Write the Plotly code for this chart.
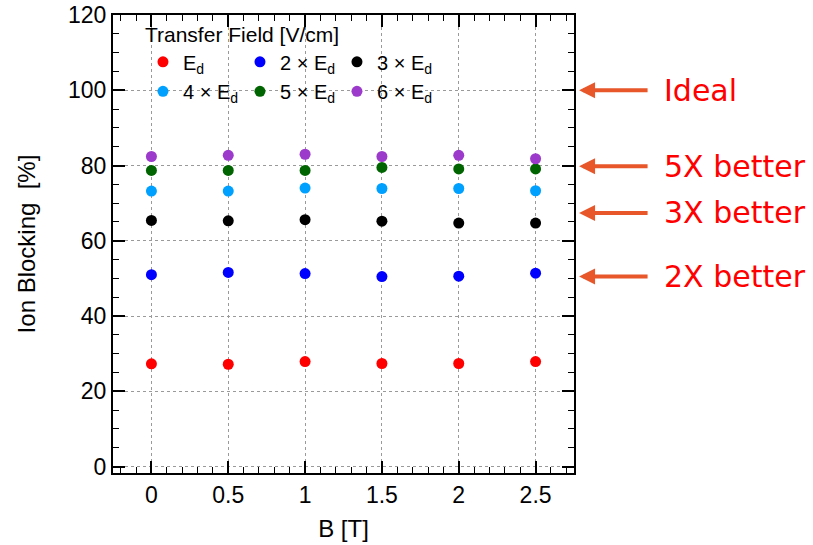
import plotly.graph_objects as go

# Magnetic field values [T]
b_field = [0, 0.5, 1, 1.5, 2, 2.5]

# Ion blocking [%] for each transfer field setting
ib_1ed = [27.3, 27.2, 27.9, 27.4, 27.4, 27.9]
ib_2ed = [51.0, 51.6, 51.3, 50.5, 50.6, 51.4]
ib_3ed = [65.4, 65.3, 65.6, 65.2, 64.7, 64.7]
ib_4ed = [73.2, 73.2, 74.0, 73.9, 73.9, 73.3]
ib_5ed = [78.7, 78.7, 78.7, 79.5, 79.1, 79.1]
ib_6ed = [82.4, 82.7, 83.0, 82.4, 82.7, 81.8]

series_names = ["E<sub>d</sub>", "2 × E<sub>d</sub>", "3 × E<sub>d</sub>",
                "4 × E<sub>d</sub>", "5 × E<sub>d</sub>", "6 × E<sub>d</sub>"]
series_values = [ib_1ed, ib_2ed, ib_3ed, ib_4ed, ib_5ed, ib_6ed]
series_colors = ["#ff0000", "#0000ff", "#000000", "#00a0ff", "#006400", "#9b3acb"]
series_legend = ["legend", "legend", "legend", "legend2", "legend2", "legend2"]

x_ticks = [0, 0.5, 1, 1.5, 2, 2.5]
x_ticktext = ["0", "0.5", "1", "1.5", "2", "2.5"]
y_ticks = [0, 20, 40, 60, 80, 100, 120]

# Reference levels marked on the right-hand side
ref_labels = ["Ideal", "5X better", "3X better", "2X better"]
ref_levels = [100, 79.8, 67.4, 50.5]

FONT = "Liberation Sans, Arial, Helvetica, sans-serif"

fig = go.Figure()
for name, vals, col, lg in zip(series_names, series_values, series_colors, series_legend):
    fig.add_trace(go.Scatter(
        x=b_field, y=vals, mode="markers", name=name, legend=lg,
        marker=dict(color=col, size=11, line=dict(width=0)),
    ))

axis_common = dict(
    automargin=False,
    showline=True, linecolor="black", linewidth=2, mirror="allticks",
    ticks="inside", ticklen=12, tickwidth=1.5, tickcolor="black",
    showgrid=True, gridcolor="#9a9a9a", gridwidth=1, griddash="dot",
    zeroline=False, tickfont=dict(family=FONT, size=23, color="black"),
)

fig.update_xaxes(
    **axis_common, range=[-0.25, 2.75], tickvals=x_ticks, ticktext=x_ticktext,
    minor=dict(dtick=0.1, ticks="inside", ticklen=6, tickwidth=1.2, tickcolor="black", showgrid=False),
    title=dict(text="B [T]", font=dict(family=FONT, size=24, color="black"), standoff=14),
)
fig.update_yaxes(
    **axis_common, range=[-1.7, 120], tickvals=y_ticks,
    minor=dict(dtick=5, ticks="inside", ticklen=6, tickwidth=1.2, tickcolor="black", showgrid=False),
    title=dict(text="Ion Blocking\u00a0 [%]", font=dict(family=FONT, size=24, color="black"), standoff=26),
)

# White panel behind the two legend rows, hiding the grid there
fig.add_shape(type="rect", xref="paper", yref="paper",
              x0=0.066, x1=0.694, y0=0.797, y1=0.996,
              fillcolor="white", line=dict(width=0), layer="between")

legend_common = dict(
    orientation="h", xanchor="left", yanchor="top", bgcolor="rgba(0,0,0,0)",
    borderwidth=0, entrywidth=52, font=dict(family=FONT, size=20, color="black"),
)
fig.update_layout(
    legend=dict(**legend_common, x=0.065, y=1.0,
                title=dict(text="Transfer Field [V/cm]", side="top",
                           font=dict(family=FONT, size=21, color="black"))),
    legend2=dict(**legend_common, x=0.065, y=0.876),
)

for lab, lev in zip(ref_labels, ref_levels):
    fig.add_annotation(
        x=1.011, xref="paper", y=lev, yref="y", text="", showarrow=True,
        ax=70, ay=0, axref="pixel", ayref="pixel",
        arrowhead=2, arrowsize=0.8, arrowwidth=4, arrowcolor="#e8572a",
    )
    fig.add_annotation(
        x=1.19, xref="paper", y=lev, yref="y", text=lab, showarrow=False,
        xanchor="left", yanchor="middle",
        font=dict(family="DejaVu Sans, Verdana, sans-serif", size=30, color="#ff0000"),
    )

fig.update_layout(
    template="none",
    width=813, height=545, autosize=False,
    margin=dict(l=113, r=239, t=15, b=72),
    paper_bgcolor="white", plot_bgcolor="white",
    showlegend=True,
)

fig.write_html("out.html")
